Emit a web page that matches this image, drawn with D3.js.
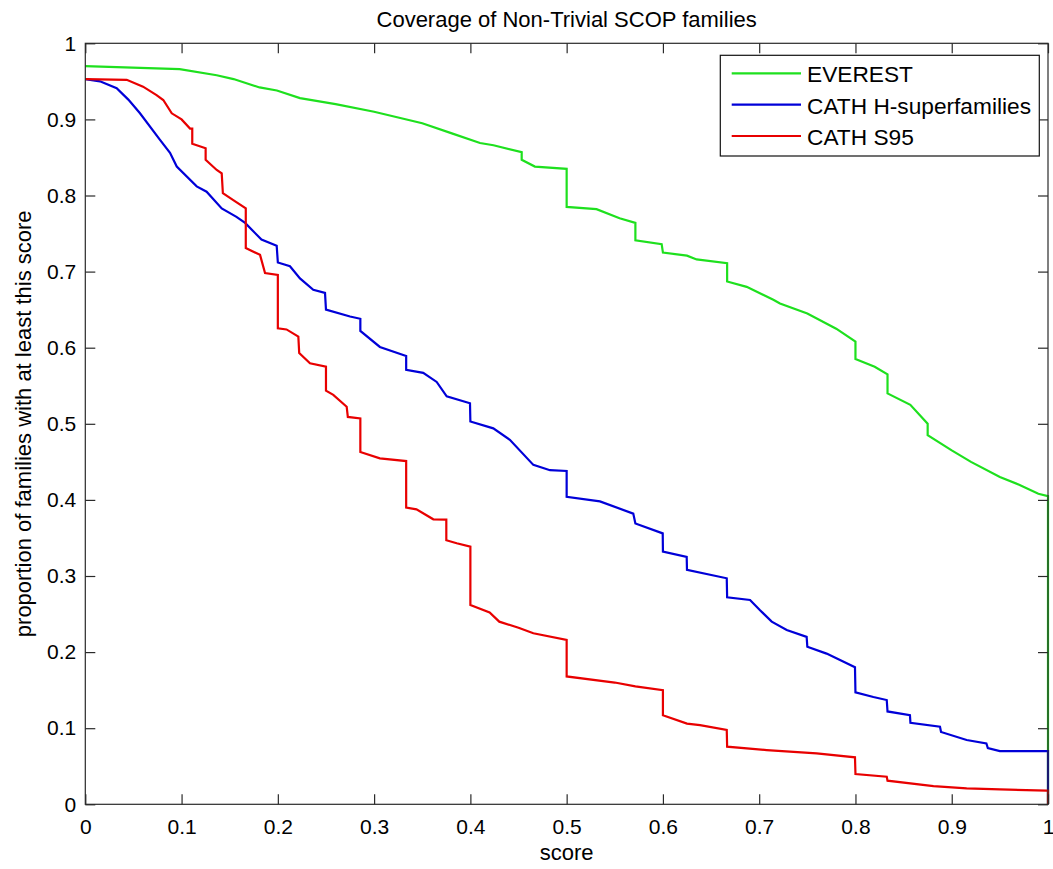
<!DOCTYPE html>
<html>
<head>
<meta charset="utf-8">
<script src="https://cdn.jsdelivr.net/npm/d3@7"></script>
<style>
  html, body { margin: 0; padding: 0; background: #fff; }
  svg { display: block; font-family: "Liberation Sans", Arial, Helvetica, sans-serif; }
</style>
</head>
<body>
<svg id="chart" width="1053" height="869"></svg>
<script>
// ---------- data ----------
const titleText = "Coverage of Non-Trivial SCOP families";
const xLabelText = "score";
const yLabelText = "proportion of families with at least this score";
const seriesNames = ["EVEREST", "CATH H-superfamilies", "CATH S95"];
const seriesColors = ["#1ee01e", "#0000d8", "#e80000"];
const xTickValues = [0, 0.1, 0.2, 0.3, 0.4, 0.5, 0.6, 0.7, 0.8, 0.9, 1];
const xTickLabels = ["0", "0.1", "0.2", "0.3", "0.4", "0.5", "0.6", "0.7", "0.8", "0.9", "1"];
const yTickValues = [0, 0.1, 0.2, 0.3, 0.4, 0.5, 0.6, 0.7, 0.8, 0.9, 1];
const yTickLabels = ["0", "0.1", "0.2", "0.3", "0.4", "0.5", "0.6", "0.7", "0.8", "0.9", "1"];

const everestScore = [0, 0.098, 0.1365, 0.154, 0.181, 0.199, 0.223, 0.26, 0.30, 0.35, 0.38, 0.41, 0.424, 0.4533, 0.4533, 0.467, 0.5, 0.5, 0.531, 0.555, 0.5714, 0.5714, 0.5987, 0.6, 0.625, 0.635, 0.6667, 0.6667, 0.687, 0.7147, 0.7216, 0.75, 0.78, 0.8, 0.8, 0.82, 0.8333, 0.8333, 0.857, 0.875, 0.875, 0.9, 0.92, 0.95, 0.97, 0.99, 1.0, 1.0];
const everestValue = [0.970, 0.966, 0.958, 0.953, 0.942, 0.938, 0.928, 0.920, 0.910, 0.895, 0.882, 0.869, 0.866, 0.857, 0.847, 0.838, 0.835, 0.785, 0.782, 0.770, 0.764, 0.741, 0.736, 0.725, 0.721, 0.716, 0.711, 0.687, 0.680, 0.663, 0.658, 0.645, 0.625, 0.608, 0.585, 0.575, 0.565, 0.540, 0.525, 0.500, 0.485, 0.465, 0.450, 0.430, 0.420, 0.408, 0.405, 0];

const cathHScore = [0, 0.0152, 0.0326, 0.0447, 0.0568, 0.0776, 0.088, 0.095, 0.1157, 0.126, 0.1417, 0.157, 0.166, 0.183, 0.1988, 0.2, 0.2126, 0.223, 0.2368, 0.249, 0.25, 0.275, 0.2857, 0.2857, 0.306, 0.3333, 0.3333, 0.351, 0.365, 0.3754, 0.3996, 0.4, 0.4238, 0.441, 0.4654, 0.4827, 0.5, 0.5, 0.5346, 0.5692, 0.5714, 0.5998, 0.6, 0.6247, 0.625, 0.6663, 0.6667, 0.6905, 0.7009, 0.713, 0.7286, 0.7493, 0.75, 0.77, 0.7995, 0.8, 0.8186, 0.8325, 0.8333, 0.8566, 0.8571, 0.8878, 0.8889, 0.9155, 0.936, 0.9375, 0.95, 0.9987, 1.0, 1.0];
const cathHValue = [0.953, 0.950, 0.941, 0.926, 0.908, 0.873, 0.856, 0.838, 0.812, 0.805, 0.783, 0.772, 0.764, 0.742, 0.734, 0.712, 0.707, 0.691, 0.676, 0.672, 0.650, 0.641, 0.638, 0.622, 0.601, 0.589, 0.571, 0.567, 0.555, 0.536, 0.527, 0.503, 0.494, 0.479, 0.446, 0.439, 0.438, 0.404, 0.398, 0.382, 0.369, 0.356, 0.332, 0.325, 0.308, 0.297, 0.272, 0.2685, 0.255, 0.240, 0.229, 0.220, 0.207, 0.198, 0.180, 0.147, 0.141, 0.137, 0.122, 0.117, 0.107, 0.102, 0.095, 0.0845, 0.080, 0.074, 0.070, 0.070, 0.070, 0];

const cathS95Score = [0, 0.043, 0.06, 0.074, 0.081, 0.0898, 0.1, 0.1088, 0.1111, 0.1111, 0.125, 0.125, 0.1365, 0.1417, 0.1429, 0.1537, 0.1667, 0.1667, 0.1815, 0.1867, 0.2, 0.2, 0.209, 0.2213, 0.2222, 0.2334, 0.25, 0.25, 0.2576, 0.2715, 0.2727, 0.2857, 0.2857, 0.306, 0.3333, 0.3333, 0.344, 0.3615, 0.375, 0.375, 0.3858, 0.4, 0.4, 0.42, 0.43, 0.45, 0.4654, 0.5, 0.5, 0.55, 0.5714, 0.6, 0.6, 0.625, 0.6385, 0.6663, 0.6667, 0.7078, 0.7597, 0.7995, 0.8, 0.8325, 0.8333, 0.881, 0.9155, 0.95, 0.9987, 1.0, 1.0];
const cathS95Value = [0.953, 0.952, 0.943, 0.932, 0.9255, 0.908, 0.900, 0.888, 0.888, 0.868, 0.862, 0.847, 0.8335, 0.829, 0.803, 0.794, 0.783, 0.731, 0.722, 0.698, 0.6955, 0.6255, 0.624, 0.6145, 0.593, 0.5795, 0.575, 0.5435, 0.538, 0.5225, 0.509, 0.507, 0.463, 0.4546, 0.451, 0.390, 0.3876, 0.3745, 0.374, 0.347, 0.343, 0.3385, 0.262, 0.252, 0.240, 0.232, 0.2247, 0.216, 0.168, 0.160, 0.155, 0.150, 0.117, 0.106, 0.104, 0.0976, 0.0757, 0.0713, 0.067, 0.0617, 0.0398, 0.0363, 0.031, 0.024, 0.021, 0.0196, 0.0179, 0.0179, 0];

// ---------- layout ----------
const svg = d3.select("#chart");
const plotLeft = 85.3, plotRight = 1048, plotTop = 43.3, plotBottom = 804.3;
const x = d3.scaleLinear().domain([0, 1]).range([plotLeft, plotRight]);
const y = d3.scaleLinear().domain([0, 1]).range([plotBottom, plotTop]);
const axisColor = "#2a2a2a";

const series = [
  { name: seriesNames[0], color: seriesColors[0], pts: everestScore.map((s, i) => [s, everestValue[i]]) },
  { name: seriesNames[1], color: seriesColors[1], pts: cathHScore.map((s, i) => [s, cathHValue[i]]) },
  { name: seriesNames[2], color: seriesColors[2], pts: cathS95Score.map((s, i) => [s, cathS95Value[i]]) }
];

const line = d3.line().x(d => x(d[0])).y(d => y(d[1]));

svg.append("g").selectAll("path").data(series).join("path")
  .attr("d", d => line(d.pts))
  .attr("fill", "none")
  .attr("stroke", d => d.color)
  .attr("stroke-width", 2.2)
  .attr("stroke-linejoin", "miter");

// frame
svg.append("rect")
  .attr("x", plotLeft).attr("y", plotTop)
  .attr("width", plotRight - plotLeft).attr("height", plotBottom - plotTop)
  .attr("fill", "none").attr("stroke", axisColor).attr("stroke-width", 1.2);

function styleAxis(g) {
  g.select(".domain").remove();
  g.selectAll(".tick line").attr("stroke", axisColor).attr("stroke-width", 1.2);
  g.selectAll(".tick text").attr("fill", "#000").style("font-size", "21px");
}

svg.append("g").attr("transform", `translate(0,${plotBottom})`)
  .call(d3.axisBottom(x).tickValues(xTickValues).tickSize(-10).tickPadding(14.5)
    .tickFormat((d, i) => xTickLabels[i]))
  .call(styleAxis);
svg.append("g").attr("transform", `translate(0,${plotTop})`)
  .call(d3.axisTop(x).tickValues(xTickValues).tickSize(-10).tickFormat(""))
  .call(styleAxis);
svg.append("g").attr("transform", `translate(${plotLeft},0)`)
  .call(d3.axisLeft(y).tickValues(yTickValues).tickSize(-10).tickPadding(9)
    .tickFormat((d, i) => yTickLabels[i]))
  .call(styleAxis);
svg.append("g").attr("transform", `translate(${plotRight},0)`)
  .call(d3.axisRight(y).tickValues(yTickValues).tickSize(-10).tickFormat(""))
  .call(styleAxis);

// title & labels
svg.append("text").attr("x", (plotLeft + plotRight) / 2).attr("y", 27)
  .attr("text-anchor", "middle").style("font-size", "22px").text(titleText);
svg.append("text").attr("x", (plotLeft + plotRight) / 2).attr("y", 860)
  .attr("text-anchor", "middle").style("font-size", "22px").text(xLabelText);
svg.append("text")
  .attr("transform", `translate(31,${(plotTop + plotBottom) / 2}) rotate(-90)`)
  .attr("text-anchor", "middle").style("font-size", "22px").text(yLabelText);

// legend
const legend = svg.append("g");
legend.append("rect").attr("x", 720.3).attr("y", 55.3).attr("width", 319).attr("height", 100.7)
  .attr("fill", "#fff").attr("stroke", "#111").attr("stroke-width", 1.2);
const legY = [73.3, 104.6, 136];
series.forEach((s, i) => {
  legend.append("line").attr("x1", 731.7).attr("x2", 801).attr("y1", legY[i]).attr("y2", legY[i])
    .attr("stroke", s.color).attr("stroke-width", 2.2);
  legend.append("text").attr("x", 807).attr("y", legY[i] + 9)
    .style("font-size", "22.7px").text(s.name);
});
</script>
</body>
</html>
